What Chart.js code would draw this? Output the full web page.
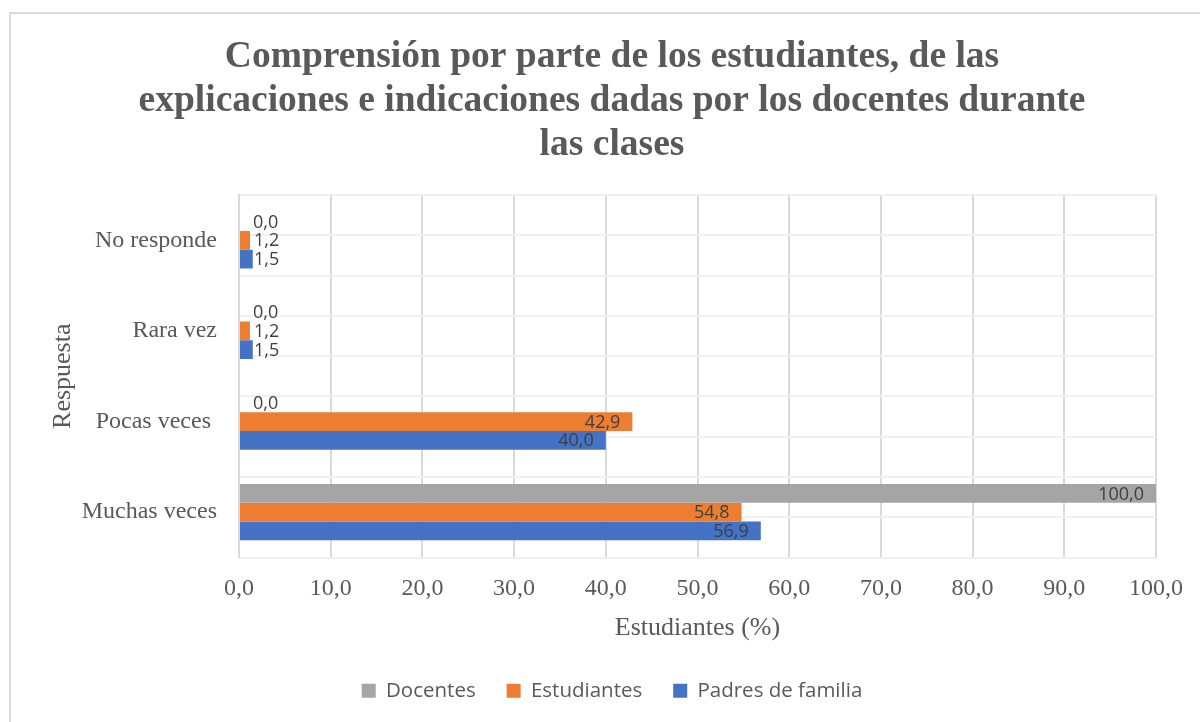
<!DOCTYPE html>
<html>
<head>
<meta charset="utf-8">
<script src="https://cdn.jsdelivr.net/npm/chart.js@4.4.1/dist/chart.umd.min.js"></script>
<style>
  html, body { margin: 0; padding: 0; background: #ffffff; overflow: hidden; }
  #wrap { position: relative; width: 1200px; height: 722px; }
  #frame { position: absolute; left: 9px; top: 12px; width: 1400px; height: 900px;
           border-left: 2px solid #d9d9d9; border-top: 2px solid #d9d9d9; z-index: 0; }
  #c { position: absolute; left: 0; top: 0; z-index: 1; }
</style>
</head>
<body>
<div id="wrap">
  <div id="frame"></div>
  <canvas id="c" width="1200" height="722"></canvas>
</div>
<script>
const titleLines = [
  "Comprensión por parte de los estudiantes, de las",
  "explicaciones e indicaciones dadas por los docentes durante",
  "las clases"
];
const categories = ["No responde", "Rara vez", "Pocas veces ", "Muchas veces"];
const seriesNames = ["Docentes", "Estudiantes", "Padres de familia"];
const docentes = [0.0, 0.0, 0.0, 100.0];
const estudiantes = [1.2, 1.2, 42.9, 54.8];
const padres = [1.5, 1.5, 40.0, 56.9];
const xTickLabels = ["0,0", "10,0", "20,0", "30,0", "40,0", "50,0", "60,0", "70,0", "80,0", "90,0", "100,0"];
const xAxisTitle = "Estudiantes (%)";
const yAxisTitle = "Respuesta";

const serif = "'Liberation Serif', 'Times New Roman', serif";
const sans = "'Open Sans', 'Noto Sans', sans-serif";
const textGray = "#595959";

const fmt = v => v.toFixed(1).replace(".", ",");

const labelPlugin = {
  id: "barLabels",
  afterDatasetsDraw(chart) {
    const ctx = chart.ctx;
    ctx.save();
    ctx.font = "18px " + sans;
    ctx.fillStyle = "#404040";
    ctx.textBaseline = "middle";
    chart.data.datasets.forEach((ds, di) => {
      const meta = chart.getDatasetMeta(di);
      meta.data.forEach((el, i) => {
        const txt = fmt(ds.data[i]);
        const tw = ctx.measureText(txt).width;
        const w = el.x - el.base;
        if (w > tw + 20) {
          ctx.textAlign = "right";
          ctx.fillText(txt, el.x - 12, el.y + 1);
        } else {
          ctx.textAlign = "left";
          ctx.fillText(txt, el.base + 14, el.y + 1);
        }
      });
    });
    ctx.restore();
  }
};

new Chart(document.getElementById("c"), {
  type: "bar",
  data: {
    labels: categories,
    datasets: [
      { label: seriesNames[0], data: docentes, backgroundColor: "#A5A5A5" },
      { label: seriesNames[1], data: estudiantes, backgroundColor: "#ED7D31" },
      { label: seriesNames[2], data: padres, backgroundColor: "#4472C4" }
    ]
  },
  options: {
    indexAxis: "y",
    responsive: false,
    animation: false,
    devicePixelRatio: 1,
    categoryPercentage: 0.62,
    barPercentage: 1.0,
    layout: { padding: { left: 66, right: 42, top: 0, bottom: 11 } },
    plugins: {
      title: {
        display: true,
        text: titleLines,
        color: textGray,
        font: { family: serif, size: 37.5, weight: "bold", lineHeight: 44 / 37.5 },
        padding: { top: 35, bottom: 28 }
      },
      legend: {
        display: true,
        position: "bottom",
        labels: {
          color: textGray,
          font: { family: sans, size: 20.5 },
          boxWidth: 14,
          boxHeight: 14,
          padding: 31
        }
      },
      tooltip: { enabled: false }
    },
    scales: {
      x: {
        type: "linear",
        min: 0,
        max: 100,
        ticks: {
          stepSize: 10,
          color: textGray,
          font: { family: serif, size: 24 },
          padding: 17,
          callback: (v, i) => xTickLabels[i]
        },
        grid: { color: "#d9d9d9", lineWidth: 2, drawTicks: false },
        border: { display: false },
        title: {
          display: true,
          text: xAxisTitle,
          color: textGray,
          font: { family: serif, size: 26 },
          padding: { top: 0, bottom: 6 }
        },
        afterFit: s => { s.height = 92; }
      },
      y: {
        type: "category",
        ticks: {
          color: textGray,
          font: { family: serif, size: 24 },
          padding: 22
        },
        grid: { display: false, drawTicks: false },
        border: { display: true, color: "#d9d9d9", width: 2 },
        title: {
          display: true,
          text: yAxisTitle,
          color: textGray,
          font: { family: serif, size: 26 },
          padding: { top: -18, bottom: 0 }
        },
        afterFit: s => { s.width = 173; }
      },
      y2: {
        type: "linear",
        position: "left",
        min: 0,
        max: 8,
        ticks: { display: false, stepSize: 1 },
        grid: { color: "#f0f0f0", lineWidth: 2, drawTicks: false },
        border: { display: false },
        afterFit: s => { s.width = 0; }
      }
    }
  },
  plugins: [labelPlugin]
});
</script>
</body>
</html>
